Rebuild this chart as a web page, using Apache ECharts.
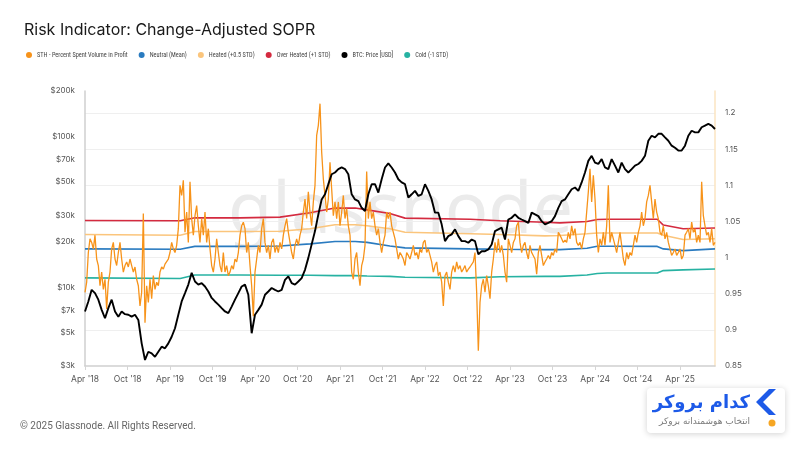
<!DOCTYPE html>
<html><head><meta charset="utf-8">
<script src="https://cdn.jsdelivr.net/npm/echarts@6/dist/echarts.min.js"></script>
<style>html,body{margin:0;padding:0;background:#fff}#c{width:800px;height:450px}</style>
</head><body><div id="c"></div>
<script>
// ---- data ----
const seriesStart = '2018-04-01';
const seriesEnd = '2025-08-29';

const sthProfit = [
0.952,0.966,1.007,1.026,1.021,1.012,1.031,0.998,0.989,0.961,
0.980,0.956,0.970,0.929,0.966,0.980,1.012,1.021,0.998,0.989,
1.007,1.021,0.998,0.980,0.989,0.994,0.987,0.998,0.989,0.980,
0.987,0.970,0.961,0.933,0.952,1.061,0.910,0.961,0.938,0.970,
0.943,0.975,0.956,0.966,0.961,0.980,0.987,0.984,0.991,0.989,
0.998,1.007,1.021,1.012,1.007,1.017,1.040,1.100,1.086,1.107,
1.035,1.063,1.021,1.105,1.054,1.031,1.058,1.072,1.044,1.021,
1.054,1.031,1.063,1.021,1.040,1.012,0.989,0.980,0.998,1.026,
1.007,0.989,0.980,1.007,0.980,0.989,0.975,0.980,0.989,0.984,
0.998,0.994,1.007,1.031,1.044,1.049,1.040,
1.007,1.021,0.989,0.961,0.919,0.980,0.998,1.017,1.007,1.040,
1.054,1.021,1.007,1.017,0.998,1.021,1.026,1.007,1.017,1.007,
1.021,1.012,1.031,1.044,1.054,1.035,1.021,1.007,0.998,1.017,
1.026,1.017,1.031,1.040,1.063,1.081,1.054,1.091,1.063,1.044,
1.077,1.100,1.169,1.183,1.213,1.146,1.109,1.086,1.063,1.081,
1.132,1.095,1.058,1.077,1.054,1.077,1.044,1.063,1.086,1.054,
1.068,1.044,1.031,0.980,0.970,0.998,1.007,0.980,0.961,0.989,
0.998,1.017,1.119,1.054,1.077,1.054,1.063,1.044,1.031,1.040,
1.021,1.007,1.021,1.031,1.063,1.054,1.063,1.044,1.035,1.026,
1.012,0.998,1.007,1.003,0.998,0.989,
1.007,1.003,0.998,1.007,1.017,1.003,1.007,0.998,1.012,1.007,
1.021,1.024,1.007,1.012,1.003,0.994,0.980,0.989,0.994,0.975,
0.980,0.966,0.933,0.975,0.980,0.966,0.956,0.980,0.989,0.980,
0.994,0.984,0.989,0.980,0.984,0.989,0.980,0.984,0.987,0.989,
0.994,1.007,0.952,0.871,0.938,0.961,0.970,0.952,0.975,0.961,
0.943,0.980,0.998,1.021,1.007,1.026,1.007,1.017,1.003,0.980,
0.966,1.026,1.017,1.007,1.021,1.026,1.044,1.049,1.021,1.007,
1.017,1.021,1.007,0.998,1.017,1.007,1.007,0.998,0.977,1.007,
1.017,1.003,0.989,0.994,0.998,1.003,0.998,1.007,1.003,1.012,
1.007,1.035,1.031,1.026,1.021,1.024,
1.021,1.035,1.026,1.044,1.031,1.040,1.021,1.017,1.021,1.012,
1.026,1.035,1.063,1.091,1.123,1.077,1.114,1.081,1.031,1.007,
1.026,1.017,1.035,1.017,1.044,1.100,1.021,1.035,1.026,1.017,
1.007,1.021,1.035,1.017,0.998,0.989,1.007,0.998,1.007,1.003,
1.017,1.031,1.021,1.035,1.044,1.063,1.044,1.054,1.077,1.086,
1.100,1.077,1.054,1.081,1.063,1.054,1.035,1.031,1.044,1.026,
1.035,1.021,1.012,1.003,1.007,1.012,1.003,1.007,1.012,0.998,
1.003,1.031,1.035,1.040,1.026,1.049,1.035,1.040,1.021,1.031,
1.021,1.105,1.058,1.044,1.031,1.035,1.021,1.040,1.017,1.021
];

const btcPrice = [
6900,8040,9600,9130,8260,7070,6220,7260,8260,6900,
6370,6900,6620,6560,6370,6560,6060,4240,3290,3730,
3640,3450,3730,4030,3930,4240,4690,5340,6560,8040,
9130,10400,12440,10900,10400,10650,10100,9360,8480,8040,
7660,7260,6900,6720,7430,8260,9130,10100,10400,
8900,4950,6560,7070,7660,8900,9360,9870,9600,9360,
9600,11180,11800,10650,10400,10900,11480,13040,15640,19220,
23550,30350,38200,41300,48200,56100,57600,60700,62200,60700,
56100,41300,38200,37200,33600,32000,41300,48200,48200,42400,
52000,62200,66200,62200,57600,52000,49500,48200,
39300,41300,43500,40300,41300,48200,43500,38200,31200,31200,
26100,20200,21800,22400,24200,21800,20200,20200,19700,20700,
20200,16500,17300,17300,17800,19200,23550,24200,24800,20700,
28100,28850,30400,28850,28100,27400,26700,31200,30400,29600,
27400,26100,26700,27400,29600,33600,37200,38200,
41300,44600,45800,43500,49500,57600,68800,74300,67000,65600,
70700,62200,60700,70700,64000,57600,67000,60700,57600,60700,
64000,65600,68800,74300,93600,101000,98600,104000,104000,98600,
93600,86800,84000,80500,80500,86800,101000,109000,106300,106300,
115000,118000,121000,118000,112000
];

const bandDates = ['2018-04-01','2019-05-15','2019-07-17','2020-01-27','2020-07-17','2020-11-23','2021-03-10','2021-06-05','2021-07-26','2021-11-01','2022-01-05','2022-10-12','2023-02-18','2023-08-30','2023-11-01','2024-02-26','2024-04-10','2024-05-23','2024-12-24','2025-01-19','2025-04-14','2025-08-29'];
const overHeated = [1.0514,1.051,1.055,1.055,1.056,1.062,1.0685,1.0685,1.066,1.061,1.0546,1.053,1.051,1.049,1.048,1.050,1.0528,1.053,1.053,1.045,1.0398,1.041];
const heated = [1.032,1.031,1.036,1.036,1.0365,1.040,1.0454,1.0454,1.044,1.040,1.035,1.033,1.032,1.030,1.0306,1.033,1.034,1.034,1.034,1.031,1.025,1.026];
const neutral = [1.012,1.0115,1.0155,1.0155,1.016,1.019,1.0222,1.0222,1.021,1.016,1.0135,1.012,1.0115,1.011,1.011,1.013,1.0157,1.0157,1.0155,1.012,1.0097,1.012];
const cold = [0.972,0.971,0.976,0.976,0.9755,0.9755,0.975,0.975,0.9745,0.974,0.9727,0.972,0.9735,0.974,0.974,0.976,0.978,0.9787,0.9787,0.982,0.983,0.9843];

const priceTicks = [3000,5000,7000,10000,20000,30000,50000,70000,100000,200000];
const seriesNames = ['STH - Percent Spent Volume in Profit','Neutral (Mean)','Heated (+0.5 STD)','Over Heated (+1 STD)','BTC: Price [USD]','Cold (-1 STD)'];
const monthNames = ['Jan','Feb','Mar','Apr','May','Jun','Jul','Aug','Sep','Oct','Nov','Dec'];

// ---- build ----
function toTs(s){const p=s.split('-').map(Number);return new Date(p[0],p[1]-1,p[2]).getTime();}
const t0 = toTs(seriesStart), t1 = toTs(seriesEnd);
function spread(vals){const n=vals.length;return vals.map((v,i)=>[t0+(t1-t0)*i/(n-1), v]);}
function pairs(dates, vals){return vals.map((v,i)=>[toTs(dates[i]), v]);}
const xTicks = [];
for(let y=2018;y<=2025;y++){ [3,9].forEach(m=>{const t=new Date(y,m,1).getTime(); if(t>=t0&&t<=t1) xTicks.push(t);}); }

const chart = echarts.init(document.getElementById('c'));
const lineBase = {type:'line', showSymbol:false, symbol:'none', animation:false};
chart.setOption({
  animation:false,
  backgroundColor:'#fff',
  textStyle:{fontFamily:'Inter, Roboto, sans-serif'},
  title:{text:'Risk Indicator: Change-Adjusted SOPR', left:19, top:17,
    textStyle:{fontSize:16, fontWeight:'normal', color:'#1a1a1a', fontFamily:'Inter'}},
  legend:{data:seriesNames, left:21, top:47, icon:'circle', itemWidth:6, itemHeight:6, itemGap:11,
    textStyle:{fontSize:6.3, color:'#444', fontFamily:'Liberation Sans Narrow, Roboto Condensed, Roboto'}},
  grid:{left:85, right:85, top:91, bottom:84, containLabel:false},
  xAxis:{type:'value', min:t0, max:t1, scale:true,
    axisLine:{lineStyle:{color:'#cfcfcf', width:1.5}},
    axisTick:{show:true, customValues:xTicks, length:4, lineStyle:{color:'#d5d5d5'}},
    splitLine:{show:false},
    axisLabel:{customValues:xTicks, color:'#555', fontSize:8.5, margin:9,
      formatter:function(v){const d=new Date(v);return monthNames[d.getMonth()]+" '"+String(d.getFullYear()).slice(2);}}},
  yAxis:[
    {type:'log', logBase:10, min:3000, max:200000, position:'left',
      axisLine:{show:true, lineStyle:{color:'#cfcfcf', width:1.5}},
      axisTick:{show:false}, splitLine:{show:false},
      axisLabel:{customValues:priceTicks, color:'#555', fontSize:8, margin:10,
        formatter:function(v){return '$'+Math.round(v/1000)+'k';}}},
    {type:'value', min:0.85, max:1.2305, interval:0.05, position:'right',
      axisLine:{show:true, lineStyle:{color:'#fbe4c2', width:1.5}},
      axisTick:{show:false},
      splitLine:{show:true, showMaxLine:false, showMinLine:false, lineStyle:{color:'#efefef', width:1}},
      axisLabel:{showMaxLabel:false, color:'#555', fontSize:8, margin:10,
        formatter:function(v){return String(+v.toFixed(2));}}}
  ],
  graphic:[
    {type:'text', left:228, top:176, z:0, silent:true,
      style:{text:'glassnode', fontSize:72, fontWeight:'normal', fontFamily:'Noto Sans', fill:'#ebebeb'}},
    {type:'rect', shape:{x:647, y:388, width:138, height:45, r:4}, z:100,
      style:{fill:'#fff', shadowBlur:6, shadowColor:'rgba(0,0,0,0.18)', shadowOffsetY:1}},
    {type:'text', x:750, y:403, z:101,
      style:{text:'کدام بروکر', fill:'#1d5ae8', fontSize:18, fontWeight:'bold', fontFamily:'DejaVu Sans', align:'right', verticalAlign:'middle'}},
    {type:'text', x:750, y:422, z:101,
      style:{text:'انتخاب هوشمندانه بروکر', fill:'#7a7a7a', fontSize:9, fontFamily:'DejaVu Sans', align:'right', verticalAlign:'middle'}},
    {type:'polygon', z:101, shape:{points:[[769,389],[756,402],[769,415],[776,415],[763,402],[776,389]]}, style:{fill:'#1d5ae8'}},
    {type:'circle', z:101, shape:{cx:772, cy:423, r:3.5}, style:{fill:'#f6a623'}},
    {type:'text', left:20, top:421,
      style:{text:'© 2025 Glassnode. All Rights Reserved.', fontSize:10, fill:'#666', fontFamily:'Roboto'}}
  ],
  series:[
    Object.assign({}, lineBase, {name:seriesNames[0], yAxisIndex:1, z:3, color:'#f7931a', lineStyle:{width:1.3, color:'#f7931a'}, data:spread(sthProfit)}),
    Object.assign({}, lineBase, {name:seriesNames[1], yAxisIndex:1, z:2, color:'#2a7bc0', lineStyle:{width:1.6, color:'#2a7bc0'}, data:pairs(bandDates, neutral)}),
    Object.assign({}, lineBase, {name:seriesNames[2], yAxisIndex:1, z:2, color:'#fbc57c', lineStyle:{width:1.6, color:'#fbc57c'}, data:pairs(bandDates, heated)}),
    Object.assign({}, lineBase, {name:seriesNames[3], yAxisIndex:1, z:2, color:'#d42a3f', lineStyle:{width:1.6, color:'#d42a3f'}, data:pairs(bandDates, overHeated)}),
    Object.assign({}, lineBase, {name:seriesNames[4], yAxisIndex:0, z:4, color:'#000', lineStyle:{width:1.9, color:'#000'}, data:spread(btcPrice)}),
    Object.assign({}, lineBase, {name:seriesNames[5], yAxisIndex:1, z:2, color:'#27b2a2', lineStyle:{width:1.6, color:'#27b2a2'}, data:pairs(bandDates, cold)})
  ]
});
</script></body></html>
